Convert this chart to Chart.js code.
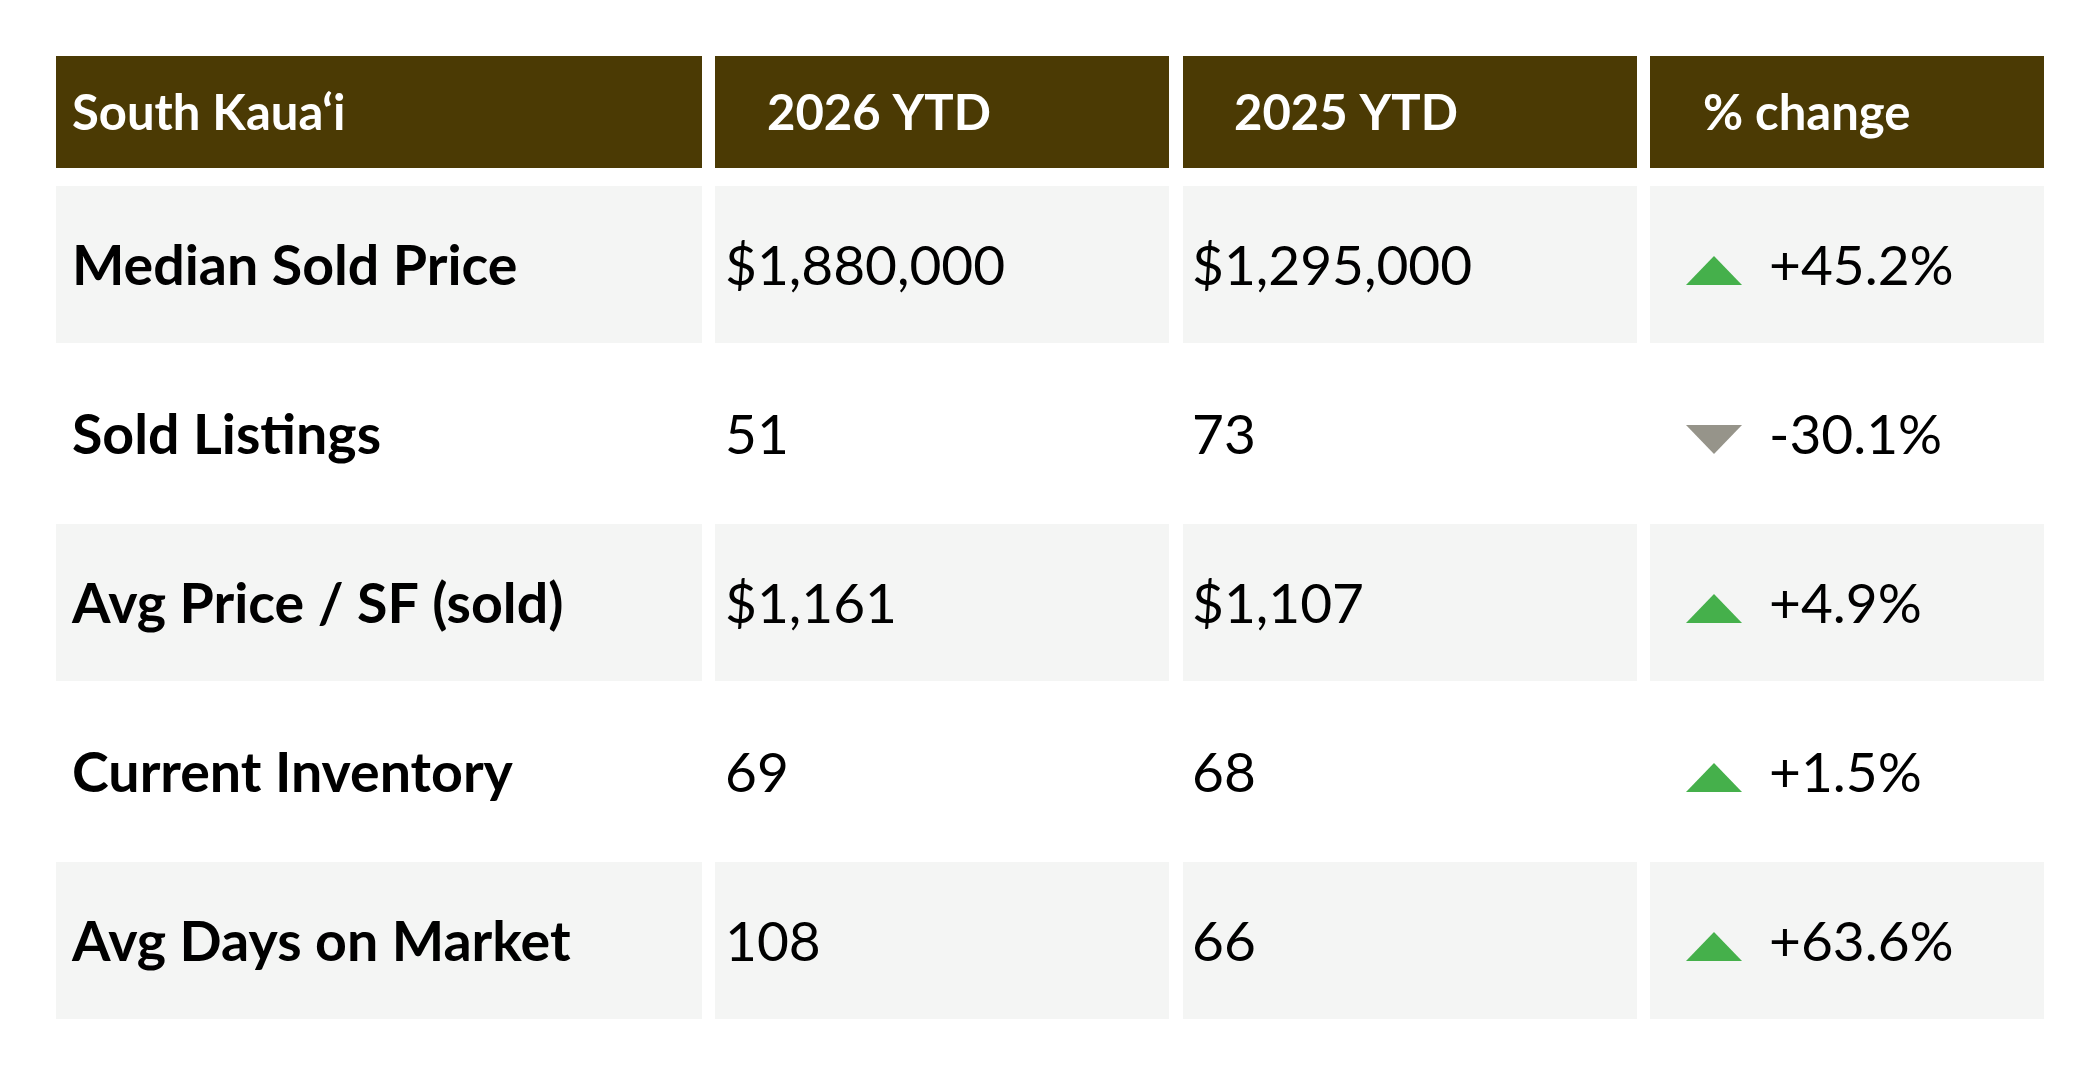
<!DOCTYPE html>
<html><head><meta charset="utf-8">
<script src="https://cdn.jsdelivr.net/npm/chart.js@4.4.1/dist/chart.umd.min.js"></script>
<style>html,body{margin:0;padding:0;background:#fff;overflow:hidden}#wrap{width:2100px;height:1069px}</style>
</head><body><div id="wrap"><canvas id="c" width="2100" height="1069"></canvas></div>
<script>
// ---- data ----
const headers = ['South Kaua\u2018i', '2026 YTD', '2025 YTD', '% change'];
const metrics = ['Median Sold Price', 'Sold Listings', 'Avg Price / SF (sold)', 'Current Inventory', 'Avg Days on Market'];
const ytd2026 = [1880000, 51, 1161, 69, 108];
const ytd2025 = [1295000, 73, 1107, 68, 66];
const pctChange = [45.2, -30.1, 4.9, 1.5, 63.6];
const isCurrency = [true, false, true, false, false];

// ---- layout / style ----
const COLS = [[0, 646], [659, 1113], [1127, 1581], [1594, 1988]];
const HEAD_TEXT_OFF = [16, 52, 51, 53];
const BODY_TEXT_OFF = [16, 10, 9, 119];
const TRI_OFF = 36, TRI_W = 56, TRI_H = 29;
const HEAD_BG = '#4B3A04', ROW_BG = '#F4F5F4', UP = '#45B04B', DOWN = '#96948A';
const FONT = 'Lato';
const BOLD_SIZE = 55.5, REG_SIZE = 55, HEAD_SIZE = 49;

const fmtVal = (v, cur) => (cur ? '$' : '') + v.toLocaleString('en-US');
const fmtPct = v => (v > 0 ? '+' : '') + v.toFixed(1) + '%';

const cellText = (r, c) => {
  if (c === 0) return metrics[r];
  if (c === 1) return fmtVal(ytd2026[r], isCurrency[r]);
  if (c === 2) return fmtVal(ytd2025[r], isCurrency[r]);
  return fmtPct(pctChange[r]);
};

const tablePlugin = {
  id: 'table',
  beforeDatasetsDraw(chart) {
    const ctx = chart.ctx, x = chart.scales.x, top = chart.chartArea.top;
    const hTop = top - 124, hH = 112;
    ctx.save();
    COLS.forEach((span, c) => {
      const l = x.getPixelForValue(span[0]), r = x.getPixelForValue(span[1]);
      ctx.fillStyle = HEAD_BG;
      ctx.fillRect(l, hTop, r - l, hH);
      ctx.fillStyle = '#fff';
      ctx.font = `700 ${HEAD_SIZE}px ${FONT}`;
      ctx.textBaseline = 'alphabetic';
      ctx.fillText(headers[c], l + HEAD_TEXT_OFF[c], hTop + hH / 2 + HEAD_SIZE * 0.36);
    });
    ctx.restore();
  },
  afterDatasetsDraw(chart) {
    const ctx = chart.ctx;
    ctx.save();
    ctx.textBaseline = 'alphabetic';
    chart.data.datasets.forEach((ds, c) => {
      const meta = chart.getDatasetMeta(c);
      meta.data.forEach((el, r) => {
        const left = Math.min(el.x, el.base);
        const base = el.y + 20.5;
        ctx.fillStyle = '#000';
        ctx.font = c === 0 ? `700 ${BOLD_SIZE}px ${FONT}` : `400 ${REG_SIZE}px ${FONT}`;
        ctx.fillText(cellText(r, c), left + BODY_TEXT_OFF[c], base);
        if (c === 3) {
          const tl = left + TRI_OFF;
          ctx.beginPath();
          if (pctChange[r] >= 0) {
            ctx.fillStyle = UP;
            ctx.moveTo(tl, base); ctx.lineTo(tl + TRI_W, base); ctx.lineTo(tl + TRI_W / 2, base - TRI_H);
          } else {
            ctx.fillStyle = DOWN;
            ctx.moveTo(tl, base - TRI_H); ctx.lineTo(tl + TRI_W, base - TRI_H); ctx.lineTo(tl + TRI_W / 2, base);
          }
          ctx.closePath(); ctx.fill();
        }
      });
    });
    ctx.restore();
  }
};

new Chart(document.getElementById('c'), {
  type: 'bar',
  data: {
    labels: metrics,
    datasets: COLS.map((span, c) => ({
      label: headers[c],
      data: metrics.map(() => [span[0], span[1]]),
      backgroundColor: ctx => (ctx.dataIndex % 2 === 0 ? ROW_BG : 'rgba(255,255,255,0)'),
      borderWidth: 0,
      borderSkipped: false,
      grouped: false,
      barPercentage: 1,
      categoryPercentage: 157 / 168.8
    }))
  },
  options: {
    indexAxis: 'y',
    responsive: false,
    animation: false,
    devicePixelRatio: 1,
    layout: { padding: { left: 56, right: 56, top: 180, bottom: 44 } },
    scales: {
      x: { type: 'linear', min: 0, max: 1988, display: false },
      y: { type: 'category', display: false, offset: true }
    },
    plugins: { legend: { display: false }, tooltip: { enabled: false }, title: { display: false } }
  },
  plugins: [tablePlugin]
});
</script></body></html>
